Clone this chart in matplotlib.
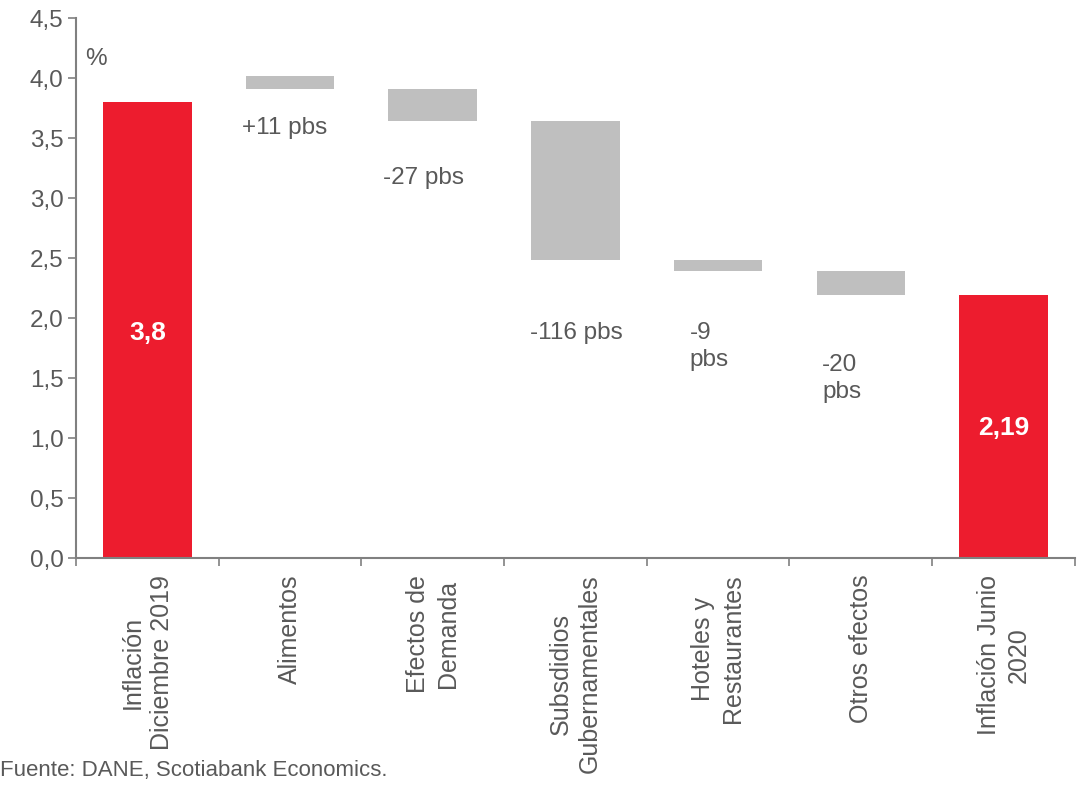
import numpy as np
import matplotlib.pyplot as plt

plt.rcParams['font.family'] = ['Liberation Sans', 'DejaVu Sans']

# data
categories = ['Inflación\nDiciembre 2019', 'Alimentos', 'Efectos de\nDemanda',
              'Subsdidios\nGubernamentales', 'Hoteles y\nRestaurantes',
              'Otros efectos', 'Inflación Junio\n2020']
bar_bottom = [0.0, 3.91, 3.64, 2.48, 2.39, 2.19, 0.0]
bar_top = [3.80, 4.02, 3.91, 3.64, 2.48, 2.39, 2.19]
is_total = [True, False, False, False, False, False, True]
change_labels = ['', '+11 pbs', '-27 pbs', '-116 pbs', '-9\npbs', '-20\npbs', '']
total_labels = ['3,8', '', '', '', '', '', '2,19']

red = '#ED1C2E'
grey = '#BFBFBF'
txt = '#595959'

fig = plt.figure(figsize=(10.78, 7.86), dpi=100)
ax = fig.add_axes([0.0705, 0.29, 0.9265, 0.687])

x = np.arange(len(categories))
heights = np.array(bar_top) - np.array(bar_bottom)
colors = [red if t else grey for t in is_total]
ax.bar(x, heights, bottom=bar_bottom, width=0.62, color=colors, zorder=2)

# label positions (style only)
lab_pos = {1: (-0.34, 3.58), 2: (-0.35, 3.17), 3: (-0.32, 1.875),
           4: (-0.2, 1.76), 5: (-0.27, 1.5)}
for i, (dx, y) in lab_pos.items():
    ax.text(i + dx, y, change_labels[i], ha='left', va='center',
            fontsize=17.5, color=txt, linespacing=1.3)

tot_pos = {0: 1.875, 6: 1.08}
for i, y in tot_pos.items():
    ax.text(i, y, total_labels[i], ha='center', va='center', fontsize=19,
            fontweight='bold', color='white')

ax.set_xlim(-0.5, len(categories) - 0.5)
ax.set_ylim(0, 4.5)
yt = np.arange(0, 4.51, 0.5)
ax.set_yticks(yt)
ax.set_yticklabels([f'{v:.1f}'.replace('.', ',') for v in yt])

ax.set_xticks(x)
ax.set_xticklabels(categories, rotation=90, ha='center', va='top',
                   linespacing=1.3)
ax.set_xticks(np.arange(-0.5, len(categories), 1), minor=True)
ax.tick_params(axis='x', which='major', length=0, pad=12, labelsize=18,
               labelcolor=txt)
ax.tick_params(axis='x', which='minor', length=6, color='#808080', width=1.2)
ax.tick_params(axis='y', length=6, color='#808080', width=1.2, labelsize=17.5,
               labelcolor=txt, pad=3)

for s in ['top', 'right']:
    ax.spines[s].set_visible(False)
for s in ['left', 'bottom']:
    ax.spines[s].set_color('#808080')
    ax.spines[s].set_linewidth(1.5)

ax.text(0.009, 0.925, '%', transform=ax.transAxes, fontsize=17.5, color=txt,
        ha='left', va='center')

fig.text(0.0, 0.02, 'Fuente: DANE, Scotiabank Economics.', fontsize=16,
         color=txt, ha='left', va='center')

fig.savefig('out.png', dpi=100)
